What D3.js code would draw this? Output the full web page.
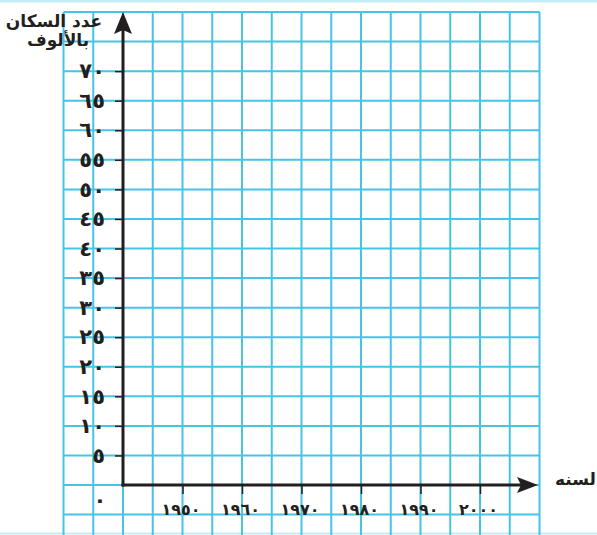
<!DOCTYPE html>
<html lang="ar">
<head>
<meta charset="utf-8">
<script src="https://cdn.jsdelivr.net/npm/d3@7"></script>
<style>
  html, body { margin: 0; padding: 0; background: #ffffff; }
  svg { display: block; }
</style>
</head>
<body>
<svg id="chart" width="597" height="535"></svg>
<script>
// Population (thousands) against year: an empty graph-paper axis pair.
const yTickValues = [5, 10, 15, 20, 25, 30, 35, 40, 45, 50, 55, 60, 65, 70];
const yTickLabels = ["٥", "١٠", "١٥", "٢٠", "٢٥", "٣٠", "٣٥", "٤٠", "٤٥", "٥٠", "٥٥", "٦٠", "٦٥", "٧٠"];
const xTickValues = [1950, 1960, 1970, 1980, 1990, 2000];
const xTickLabels = ["١٩٥٠", "١٩٦٠", "١٩٧٠", "١٩٨٠", "١٩٩٠", "٢٠٠٠"];
const originLabel = "٠";
const yTitleLines = ["عدد السكان", "بالألوف"];
const xTitle = "لسنه";
// Graph-paper lines, in data units
const gridYears = d3.range(1930, 2011, 5);
const gridValues = d3.range(-5, 81, 5);

const svg = d3.select("#chart");
const ink = "#231f20";
const fontFamily = "'DejaVu Sans', sans-serif";

const x = d3.scaleLinear().domain([1940, 2010]).range([123, 539.5]);
const y = d3.scaleLinear().domain([0, 80]).range([485, 12]);

const gridColor = "#45c4e6";

// page border strips
svg.append("line").attr("x1", 0).attr("x2", 597).attr("y1", 1).attr("y2", 1)
  .attr("stroke", "#c4ebf6").attr("stroke-width", 3);
svg.append("line").attr("x1", 0).attr("x2", 597).attr("y1", 533.5).attr("y2", 533.5)
  .attr("stroke", "#c4ebf6").attr("stroke-width", 2);

// grid
const grid = svg.append("g");
grid.selectAll("line.v").data(gridYears).join("line")
  .attr("class", "v")
  .attr("x1", d => x(d)).attr("x2", d => x(d))
  .attr("y1", y(80)).attr("y2", 535)
  .attr("stroke", gridColor).attr("stroke-width", 2);
grid.selectAll("line.h").data(gridValues).join("line")
  .attr("class", "h")
  .attr("x1", x(1930)).attr("x2", x(2010))
  .attr("y1", d => y(d)).attr("y2", d => y(d))
  .attr("stroke", gridColor).attr("stroke-width", 2);

// y axis
const yAxis = d3.axisLeft(y)
  .tickValues(yTickValues)
  .tickFormat((d, i) => yTickLabels[i])
  .tickSize(8)
  .tickPadding(10);
const gy = svg.append("g").attr("transform", `translate(${x(1940)},0)`).call(yAxis);
gy.attr("font-size", null).attr("font-family", null);
gy.select(".domain").remove();
gy.selectAll(".tick line").attr("stroke", ink).attr("stroke-width", 1.5);
gy.selectAll(".tick text")
  .style("font-size", "21px").style("font-weight", "bold")
  .style("font-family", fontFamily)
  .style("direction", "ltr")
  .attr("fill", ink);

// x axis
const xAxis = d3.axisBottom(x)
  .tickValues(xTickValues)
  .tickFormat((d, i) => xTickLabels[i])
  .tickSize(9)
  .tickPadding(10);
const gx = svg.append("g").attr("transform", `translate(0,${y(0)})`).call(xAxis);
gx.attr("font-size", null).attr("font-family", null);
gx.select(".domain").remove();
gx.selectAll(".tick line").attr("stroke", ink).attr("stroke-width", 1.5);
gx.selectAll(".tick text")
  .style("font-size", "16px").style("font-weight", "bold")
  .style("font-family", fontFamily)
  .style("direction", "ltr")
  .attr("fill", ink)
  .attr("dx", -2);

// axis lines with arrowheads
const x0 = x(1940), y0 = y(0);
const yTop = y(80), xEnd = x(2010) - 1.5;
svg.append("line").attr("x1", x0).attr("x2", x0).attr("y1", y0 + 1.5).attr("y2", yTop + 12)
  .attr("stroke", ink).attr("stroke-width", 3);
svg.append("line").attr("x1", x0 - 1.5).attr("x2", xEnd - 12).attr("y1", y0).attr("y2", y0)
  .attr("stroke", ink).attr("stroke-width", 3);
svg.append("path")
  .attr("d", `M${x0},${yTop} L${x0 + 9},${yTop + 22} L${x0},${yTop + 18} L${x0 - 9},${yTop + 22} Z`)
  .attr("fill", ink);
svg.append("path")
  .attr("d", `M${xEnd},${y0} L${xEnd - 21},${y0 + 8} L${xEnd - 17},${y0} L${xEnd - 21},${y0 - 8} Z`)
  .attr("fill", ink);

// origin label
svg.append("text").attr("x", 100).attr("y", 501)
  .attr("text-anchor", "middle").attr("dominant-baseline", "middle")
  .style("font-size", "21px").style("font-weight", "bold").style("font-family", fontFamily)
  .attr("fill", ink)
  .text(originLabel);

// axis titles
svg.append("g").selectAll("text").data(yTitleLines).join("text")
  .attr("x", (d, i) => 54 + i * 4).attr("y", (d, i) => 27 + i * 19)
  .attr("text-anchor", "middle")
  .style("font-size", "17px").style("font-weight", "bold").style("font-family", fontFamily)
  .attr("fill", ink)
  .text(d => d);

svg.append("text").attr("x", 596).attr("y", 485)
  .attr("text-anchor", "end")
  .style("font-size", "17px").style("font-weight", "bold").style("font-family", fontFamily)
  .attr("fill", ink)
  .text(xTitle);
</script>
</body>
</html>
